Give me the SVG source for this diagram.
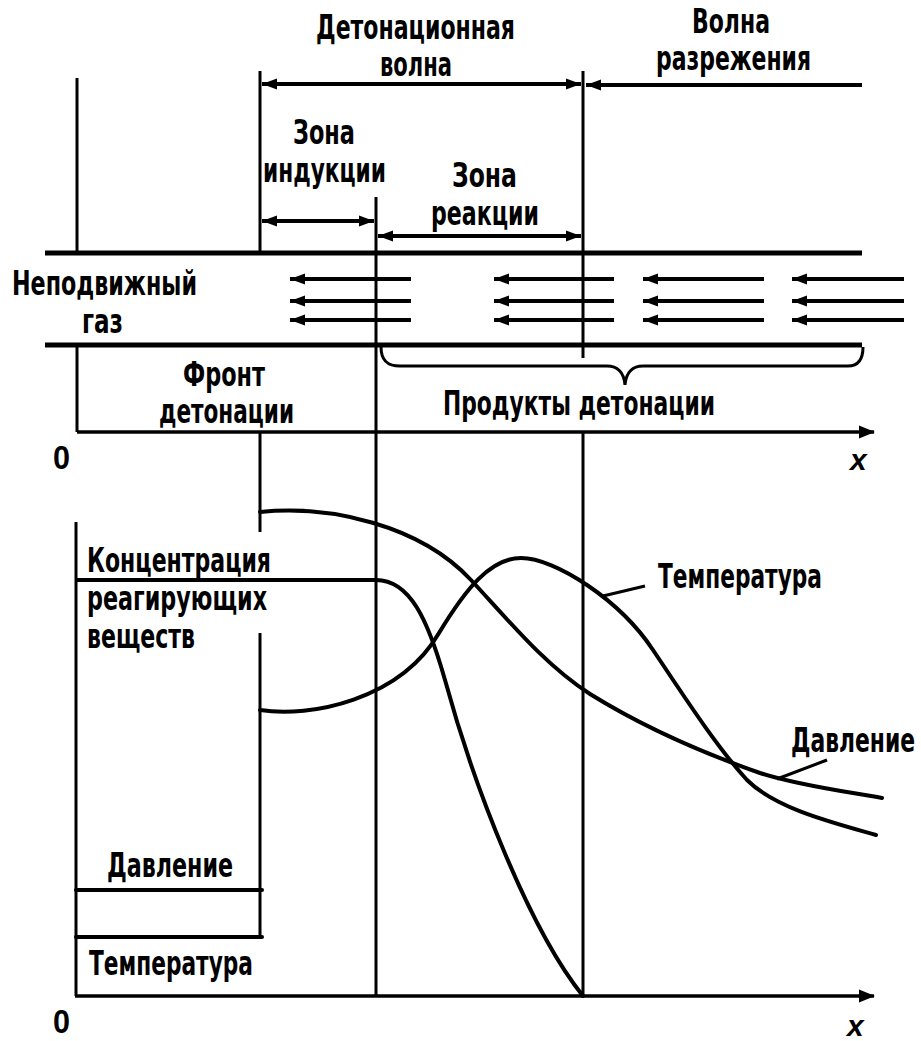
<svg xmlns="http://www.w3.org/2000/svg" width="921" height="1041" viewBox="0 0 921 1041">
<defs>
<style>
.t{font-family:'Liberation Sans Narrow','DejaVu Sans Condensed','Liberation Sans',sans-serif;font-weight:bold;font-size:34px;fill:#000}
.ti{font-family:'Liberation Sans','DejaVu Sans',sans-serif;font-weight:bold;font-style:italic;font-size:30px;fill:#000}
.n{font-family:'Liberation Sans','DejaVu Sans',sans-serif;font-weight:bold;font-size:33px;fill:#000}
.l{stroke:#000;stroke-width:3;fill:none}
.th{stroke:#000;stroke-width:5;fill:none}
.ax{stroke:#000;stroke-width:3.5;fill:none}
.cv{stroke:#000;stroke-width:4;fill:none;stroke-linecap:round}
.ar{stroke:#000;stroke-width:4;fill:none}
</style>
<marker id="ah" markerUnits="userSpaceOnUse" markerWidth="16" markerHeight="12" refX="15" refY="6" orient="auto-start-reverse">
<path d="M0,0.5 L15,6 L0,11.5 z" fill="#000"/>
</marker>
<marker id="ax" markerUnits="userSpaceOnUse" markerWidth="16" markerHeight="14" refX="15" refY="7" orient="auto">
<path d="M0,0.5 L16,7 L0,13.5 z" fill="#000"/>
</marker>
</defs>
<rect width="921" height="1041" fill="#fff"/>

<g id="connectors">
<!-- vertical guide lines -->
<line class="l" x1="77" y1="78" x2="77" y2="253"/>
<line class="l" x1="77" y1="345" x2="77" y2="432"/>
<line class="l" x1="260" y1="71" x2="260" y2="253"/>
<line class="l" x1="260" y1="432" x2="260" y2="532"/>
<line class="l" x1="260" y1="633" x2="260" y2="937"/>
<line class="l" x1="376" y1="197" x2="376" y2="996"/>
<line class="l" x1="583" y1="71" x2="583" y2="358"/>
<line class="l" x1="583" y1="432" x2="583" y2="996"/>
<line class="l" x1="76" y1="522" x2="76" y2="996"/>

<!-- dimension arrows -->
<line class="ar" x1="262" y1="84" x2="581" y2="84" marker-start="url(#ah)" marker-end="url(#ah)"/>
<line class="ar" x1="586" y1="85" x2="862" y2="85" marker-start="url(#ah)"/>
<line class="ar" x1="262" y1="221" x2="374" y2="221" marker-start="url(#ah)" marker-end="url(#ah)"/>
<line class="ar" x1="378" y1="236" x2="581" y2="236" marker-start="url(#ah)" marker-end="url(#ah)"/>

<!-- channel walls -->
<line class="th" x1="45" y1="253" x2="862" y2="253"/>
<line class="th" x1="45" y1="345" x2="862" y2="345"/>

<!-- flow arrows -->
<g>
<line class="ar" x1="290" y1="279" x2="411" y2="279" marker-start="url(#ah)"/>
<line class="ar" x1="290" y1="301" x2="411" y2="301" marker-start="url(#ah)"/>
<line class="ar" x1="290" y1="320" x2="411" y2="320" marker-start="url(#ah)"/>
<line class="ar" x1="494" y1="279" x2="614" y2="279" marker-start="url(#ah)"/>
<line class="ar" x1="494" y1="301" x2="614" y2="301" marker-start="url(#ah)"/>
<line class="ar" x1="494" y1="320" x2="614" y2="320" marker-start="url(#ah)"/>
<line class="ar" x1="643" y1="279" x2="764" y2="279" marker-start="url(#ah)"/>
<line class="ar" x1="643" y1="301" x2="764" y2="301" marker-start="url(#ah)"/>
<line class="ar" x1="643" y1="320" x2="764" y2="320" marker-start="url(#ah)"/>
<line class="ar" x1="792" y1="279" x2="904" y2="279" marker-start="url(#ah)"/>
<line class="ar" x1="792" y1="301" x2="904" y2="301" marker-start="url(#ah)"/>
<line class="ar" x1="792" y1="320" x2="904" y2="320" marker-start="url(#ah)"/>
</g>

<!-- brace -->
<path class="l" stroke-width="3.5" d="M381,347 C381,361 388,366 400,366 L607,366 C617,366 624,372 625,385 C626,372 633,366 643,366 L848,366 C858,366 863,360 863,347"/>

<!-- axes -->
<line class="ax" x1="77" y1="432" x2="874" y2="432" marker-end="url(#ax)"/>
<line class="ax" x1="75" y1="996" x2="874" y2="996" marker-end="url(#ax)"/>

<!-- initial levels -->
<line class="cv" stroke-linecap="butt" x1="76" y1="890" x2="262" y2="890"/>
<line class="cv" stroke-linecap="butt" x1="76" y1="937" x2="262" y2="937"/>

<!-- concentration -->
<path class="cv" stroke-linecap="butt" d="M77,580 L376,580 C410,580 428,620 445,680 C475,790 530,930 583,996"/>
<!-- pressure -->
<path class="cv" d="M260,512 C330,505 420,525 471,580 C510,622 545,665 590,694 C640,725 700,752 760,773 C800,786 850,792 882,798"/>
<!-- temperature -->
<path class="cv" d="M260,710 C310,718 400,700 439,633 C465,590 490,558 521,558 C555,558 620,600 653,650 C680,690 715,745 747,780 C775,808 830,822 876,835"/>

<!-- leaders -->
<line class="l" x1="603" y1="596" x2="645" y2="586"/>
<line class="l" x1="777" y1="779" x2="827" y2="760"/>
</g>

<g id="labels">
<text class="t" x="316" y="39" textLength="199" lengthAdjust="spacingAndGlyphs">Детонационная</text>
<text class="t" x="380" y="76" textLength="72" lengthAdjust="spacingAndGlyphs">волна</text>
<text class="t" x="692" y="33" textLength="78" lengthAdjust="spacingAndGlyphs">Волна</text>
<text class="t" x="656" y="70" textLength="155" lengthAdjust="spacingAndGlyphs">разрежения</text>
<text class="t" x="293" y="144" textLength="62" lengthAdjust="spacingAndGlyphs">Зона</text>
<text class="t" x="263" y="182" textLength="123" lengthAdjust="spacingAndGlyphs">индукции</text>
<text class="t" x="452" y="187" textLength="65" lengthAdjust="spacingAndGlyphs">Зона</text>
<text class="t" x="431" y="225" textLength="108" lengthAdjust="spacingAndGlyphs">реакции</text>
<text class="t" x="12" y="295" textLength="185" lengthAdjust="spacingAndGlyphs">Неподвижный</text>
<text class="t" x="82" y="333" textLength="41" lengthAdjust="spacingAndGlyphs">газ</text>
<text class="t" x="183" y="386" textLength="82" lengthAdjust="spacingAndGlyphs">Фронт</text>
<text class="t" x="159" y="423" textLength="135" lengthAdjust="spacingAndGlyphs">детонации</text>
<text class="t" x="443" y="415" textLength="272" lengthAdjust="spacingAndGlyphs">Продукты детонации</text>
<text class="n" x="53" y="469" textLength="17" lengthAdjust="spacingAndGlyphs">0</text>
<text class="ti" x="850" y="470">x</text>
<text class="t" x="87" y="572" textLength="184" lengthAdjust="spacingAndGlyphs">Концентрация</text>
<text class="t" x="87" y="610" textLength="180" lengthAdjust="spacingAndGlyphs">реагирующих</text>
<text class="t" x="87" y="648" textLength="108" lengthAdjust="spacingAndGlyphs">веществ</text>
<text class="t" x="658" y="588" textLength="164" lengthAdjust="spacingAndGlyphs">Температура</text>
<text class="t" transform="translate(791,752) scale(1,1.25)" x="0" y="0" style="font-size:27px" textLength="124" lengthAdjust="spacingAndGlyphs">Давление</text>
<text class="t" x="107" y="877" textLength="126" lengthAdjust="spacingAndGlyphs">Давление</text>
<text class="t" x="89" y="975" textLength="164" lengthAdjust="spacingAndGlyphs">Температура</text>
<text class="n" x="53" y="1033" textLength="17" lengthAdjust="spacingAndGlyphs">0</text>
<text class="ti" x="847" y="1036">x</text>
</g>
</svg>
